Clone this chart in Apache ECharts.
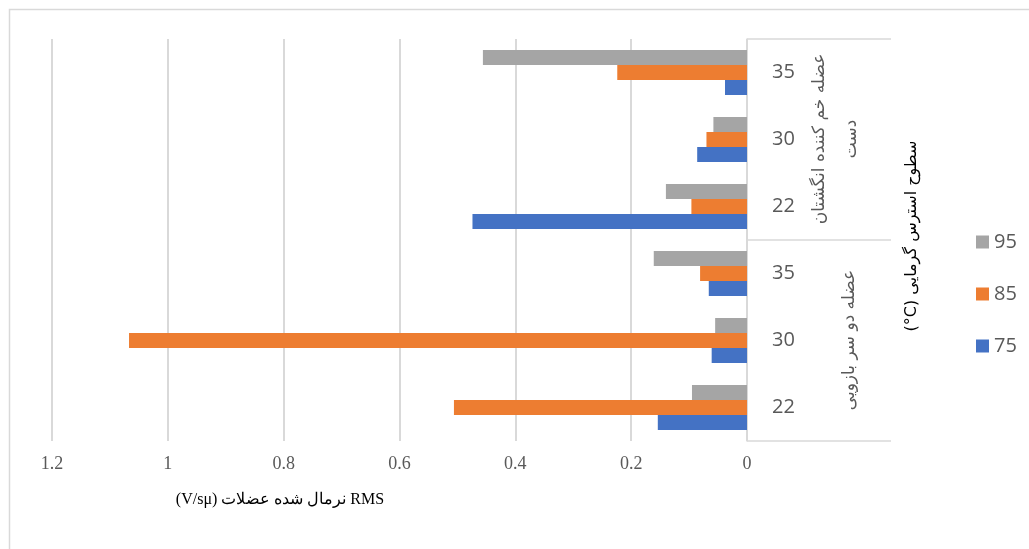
<!DOCTYPE html>
<html>
<head>
<meta charset="utf-8">
<script src="https://cdn.jsdelivr.net/npm/echarts@6/dist/echarts.min.js"></script>
<style>
  html, body { margin: 0; padding: 0; background: #fff; }
  #chart { width: 1029px; height: 549px; }
</style>
</head>
<body>
<div id="chart"></div>
<script>
// data, bottom to top
const categories = ['22', '30', '35', '22', '30', '35'];
const groups = ['عضله دو سر بازویی', 'عضله خم کننده انگشتان\nدست'];
const series75 = [0.154, 0.061, 0.066, 0.474, 0.086, 0.038];
const series85 = [0.506, 1.067, 0.081, 0.096, 0.070, 0.224];
const series95 = [0.095, 0.055, 0.161, 0.140, 0.058, 0.456];
const xTicks = [0, 0.2, 0.4, 0.6, 0.8, 1, 1.2];

// canvas draws left to right, so the latin parts are placed first
const xTitle = '(V/sμ) نرمال شده عضلات RMS';
const yTitle = '(°C) سطوح استرس گرمایی';

const gridLine = '#d9d9d9';
const textColor = '#595959';

const chart = echarts.init(document.getElementById('chart'));

function bar(name, data, color) {
    return {
        name: name,
        type: 'bar',
        data: data,
        barWidth: 15,
        barGap: '0%',
        itemStyle: { color: color },
        emphasis: { disabled: true }
    };
}

chart.setOption({
    animation: false,
    grid: { left: 52, right: 282, top: 39, bottom: 108 },
    xAxis: {
        type: 'value',
        inverse: true,
        min: xTicks[0],
        max: xTicks[xTicks.length - 1],
        interval: 0.2,
        axisLine: { show: false },
        axisTick: { show: false },
        splitLine: { lineStyle: { color: gridLine, width: 2 } },
        axisLabel: {
            margin: 14,
            color: textColor,
            fontFamily: 'Liberation Serif',
            fontSize: 18,
            formatter: v => String(Math.round(v * 10) / 10)
        }
    },
    yAxis: {
        type: 'category',
        position: 'right',
        data: categories,
        axisLine: { lineStyle: { color: gridLine, width: 1.5 } },
        axisTick: { show: false },
        axisLabel: {
            margin: 25,
            color: textColor,
            fontFamily: 'Open Sans',
            fontSize: 20,
            align: 'left'
        }
    },
    legend: {
        orient: 'vertical',
        left: 971,
        top: 227,
        itemWidth: 13,
        itemHeight: 13,
        itemGap: 32,
        icon: 'rect',
        data: ['95', '85', '75'],
        textStyle: { color: textColor, fontFamily: 'Open Sans', fontSize: 20 }
    },
    // first series is drawn at the top of each category
    series: [
        bar('95', series95, '#a5a5a5'),
        bar('85', series85, '#ed7d31'),
        bar('75', series75, '#4472c4')
    ],
    graphic: [
        { type: 'rect', shape: { x: 9.5, y: 9.5, width: 1100, height: 700 },
          style: { fill: 'none', stroke: gridLine, lineWidth: 1.5 }, silent: true },
        { type: 'line', shape: { x1: 747, y1: 39, x2: 891, y2: 39 }, style: { stroke: gridLine, lineWidth: 1.5 } },
        { type: 'line', shape: { x1: 747, y1: 240, x2: 891, y2: 240 }, style: { stroke: gridLine, lineWidth: 1.5 } },
        { type: 'line', shape: { x1: 747, y1: 441, x2: 891, y2: 441 }, style: { stroke: gridLine, lineWidth: 1.5 } },
        { type: 'text', x: 836, y: 139, rotation: Math.PI / 2,
          style: { text: groups[1], fill: textColor, font: '17px "DejaVu Sans"', align: 'center',
                   verticalAlign: 'middle', lineHeight: 32 } },
        { type: 'text', x: 850, y: 340, rotation: Math.PI / 2,
          style: { text: groups[0], fill: textColor, font: '17px "DejaVu Sans"', align: 'center',
                   verticalAlign: 'middle' } },
        { type: 'text', x: 912, y: 236, rotation: Math.PI / 2,
          style: { text: yTitle, fill: '#000', font: '16px "DejaVu Sans"', align: 'center',
                   verticalAlign: 'middle' } },
        { type: 'text', x: 280, y: 500,
          style: { text: xTitle, fill: '#000', font: '16px "Liberation Serif"', align: 'center',
                   verticalAlign: 'middle' } }
    ]
});
</script>
</body>
</html>
